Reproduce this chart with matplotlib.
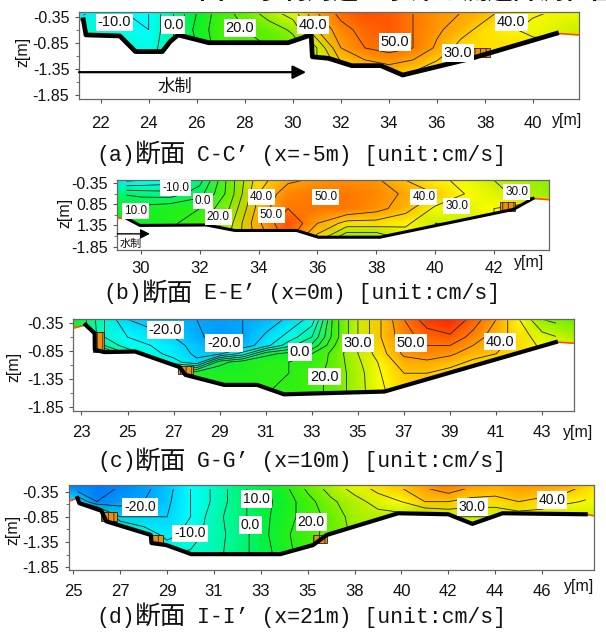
#!/usr/bin/env python3
import numpy as np
import matplotlib
matplotlib.use("Agg")
import matplotlib.pyplot as plt
from matplotlib.colors import LinearSegmentedColormap, Normalize
from matplotlib.patches import Polygon, Rectangle

W, H = 606, 632
LATIN = "Liberation Sans"
CJK = ["Noto Sans CJK JP", "DejaVu Sans"]
MONO = ["Liberation Mono", "Noto Sans CJK JP"]

plt.rcParams["hatch.linewidth"] = 0.6

# panel a, section C-C'
a_y = [21.1, 22, 23, 24, 25, 26, 27, 28, 29, 30, 31, 32, 33, 34, 35, 36, 37, 38, 39, 40, 41.9]
a_z = [-0.26, -0.6, -0.95, -1.5]
a_v = [
    [-12, -8, -10, -10, 0, 10, 18, 22, 28, 33, 45, 52, 55, 54, 50, 47, 45, 42, 38, 36, 33],
    [-5, -5, -8, -10, 0, 12, 18, 20, 22, 26, 40, 48, 52, 54, 50, 46, 42, 38, 36, 33, 30],
    [-5, -5, -5, -8, 0, 10, 18, 18, 20, 22, 30, 45, 50, 52, 50, 44, 38, 38, 38, 38, 38],
    [-5, -5, -5, -5, 0, 10, 15, 15, 18, 20, 30, 35, 38, 40, 38, 35, 35, 35, 35, 35, 35],
]
a_bed_y = [21.1, 21.28, 21.39, 22.8, 23.45, 24.57, 24.89, 25.22, 26.5, 29.8, 30.76, 30.81,
           31.49, 32.45, 33.66, 34.57, 37.43, 40.97, 41.9]
a_bed_z = [-0.41, -0.41, -0.70, -0.72, -1.02, -1.02, -0.83, -0.70, -0.85, -0.85, -0.70, -1.12,
           -1.15, -1.29, -1.29, -1.47, -1.15, -0.67, -0.70]
a_labels = [("-10.0", 22.58, -0.46), ("0.0", 25.02, -0.51), ("20.0", 27.79, -0.56),
            ("40.0", 30.84, -0.51), ("50.0", 34.25, -0.84), ("30.0", 36.87, -1.04),
            ("40.0", 39.09, -0.46)]
a_ticks = [22, 24, 26, 28, 30, 32, 34, 36, 38, 40]
a_ticklabels = ["22", "24", "26", "28", "30", "32", "34", "36", "38", "40"]
a_blocks = [(37.43, 38.2, -1.12, -0.96)]

# panel b, section E-E'
b_y = [29.2, 30, 31, 32, 33, 34, 35, 36, 37, 38, 39, 40, 41, 42, 43, 43.86]
b_z = [-0.28, -0.6, -0.95, -1.3, -1.65]
b_v = [
    [-12, -10, -8, 3, 22, 38, 44, 46, 47, 46, 40, 36, 34, 30, 27, 25],
    [5, 3, 2, 8, 22, 40, 48, 50, 50, 48, 44, 40, 35, 32, 28, 26],
    [12, 12, 14, 15, 25, 42, 50, 50, 50, 47, 42, 34, 32, 35, 38, 38],
    [12, 12, 14, 18, 28, 44, 55, 45, 38, 38, 36, 30, 30, 35, 38, 38],
    [12, 12, 14, 18, 30, 42, 52, 38, 25, 25, 32, 32, 30, 38, 38, 38],
]
b_bed_y = [29.2, 29.51, 29.97, 32.23, 33.2, 35.29, 36.03, 38.12, 42.66, 43.33, 43.86]
b_bed_z = [-1.18, -1.18, -1.35, -1.34, -1.47, -1.47, -1.63, -1.63, -0.97, -0.71, -0.74]
b_labels = [("-10.0", 31.19, -0.47), ("0.0", 32.12, -0.78), ("40.0", 34.10, -0.68),
            ("50.0", 36.29, -0.68), ("40.0", 39.62, -0.68), ("30.0", 40.73, -0.89),
            ("30.0", 42.77, -0.56), ("10.0", 29.83, -1.0), ("20.0", 32.63, -1.15),
            ("50.0", 34.44, -1.10)]
b_ticks = [30, 32, 34, 36, 38, 40, 42]
b_ticklabels = ["30", "32", "34", "36", "38", "40", "42"]
b_blocks = [(42.2, 42.71, -1.0, -0.8)]

# panel c, section G-G'
c_y = [22.65, 24, 25, 26, 27, 28, 29, 30, 31, 32, 33, 34, 35, 36, 37, 38, 39, 40, 41, 42, 43, 44.36]
c_z = [-0.28, -0.6, -0.75, -0.9, -1.05, -1.25, -1.65]
c_v = [
    [12, -5, -15, -17, -18, -20, -21, -20, -18, -14, -8, 18, 30, 40, 50, 58, 60, 53, 45, 35, 25, 22],
    [15, -5, -10, -13, -15, -19, -22, -20, -14, -8, 0, 18, 30, 40, 48, 52, 54, 48, 42, 38, 32, 28],
    [18, 0, -8, -10, -13, -17, -19, -18, -12, -2, 6, 20, 30, 39, 47, 50, 50, 45, 41, 38, 34, 31],
    [20, 15, 0, -8, -12, -16, -16, -8, 8, 12, 15, 22, 30, 38, 46, 48, 46, 42, 40, 38, 36, 34],
    [20, 18, 8, 0, -8, -14, 8, 13, 15, 15, 16, 22, 29, 36, 43, 44, 42, 39, 37, 36, 35, 34],
    [20, 20, 15, 12, 12, 14, 14, 14, 15, 15, 18, 22, 28, 35, 40, 40, 38, 36, 34, 34, 34, 34],
    [20, 20, 15, 12, 12, 14, 14, 14, 15, 16, 18, 22, 28, 34, 38, 40, 40, 36, 34, 34, 34, 34],
]
c_bed_y = [22.65, 23.18, 23.57, 23.58, 23.99, 25.33, 27.26, 27.51, 29.19, 30.62, 31.79, 36.15, 43.59, 44.36]
c_bed_z = [-0.44, -0.38, -0.53, -0.83, -0.87, -0.86, -1.14, -1.28, -1.46, -1.46, -1.63, -1.58, -0.69, -0.71]
c_labels = [("-20.0", 26.64, -0.47), ("-20.0", 29.19, -0.70), ("0.0", 32.48, -0.87),
            ("30.0", 35.0, -0.71), ("50.0", 37.31, -0.71), ("40.0", 41.17, -0.68),
            ("20.0", 33.55, -1.31)]
c_ticks = [23, 25, 27, 29, 31, 33, 35, 37, 39, 41, 43]
c_ticklabels = ["23", "25", "27", "29", "31", "33", "35", "37", "39", "41", "43"]
c_blocks = [(23.49, 23.99, -0.86, -0.5), (27.18, 27.85, -1.26, -1.12)]

# panel d, section I-I'  (tick labels skip 37 in the original, so positions differ from labels)
d_y = [24.8, 26, 27, 28, 29, 30, 31, 32, 33, 34, 35, 36, 37, 38, 39, 40, 41, 42, 43, 44, 45, 46, 47.21]
d_z = [-0.22, -0.55, -0.85, -1.2, -1.6]
d_v = [
    [-27, -27, -25, -22, -17, -10, -4, 3, 8, 14, 22, 28, 33, 38, 41, 46, 50, 46, 44, 46, 46, 44, 38],
    [-10, -25, -22, -20, -16, -10, -4, 3, 8, 12, 18, 24, 28, 32, 35, 40, 40, 38, 38, 40, 38, 36, 34],
    [10, 5, -15, -15, -15, -10, -2, 3, 8, 13, 17, 22, 27, 28, 28, 28, 30, 30, 30, 32, 32, 30, 30],
    [20, 10, 5, -6, -12, -8, -2, 2, 8, 14, 18, 22, 26, 30, 30, 30, 30, 30, 30, 30, 30, 30, 30],
    [20, 10, 8, 5, -5, -4, -2, 3, 7, 13, 18, 22, 26, 30, 30, 30, 30, 30, 30, 30, 30, 30, 30],
]
d_bed_y = [24.8, 25.17, 25.25, 26.19, 26.4, 28.3, 28.33, 28.96, 30.03, 33.83, 35.23, 35.81,
           38.86, 41.0, 42.03, 43.32, 46.87, 47.21]
d_bed_z = [-0.54, -0.48, -0.58, -0.73, -0.94, -1.21, -1.37, -1.41, -1.59, -1.59, -1.41, -1.21,
           -0.78, -0.80, -0.99, -0.78, -0.80, -0.83]
d_labels = [("-20.0", 27.85, -0.66), ("10.0", 32.81, -0.50), ("0.0", 32.56, -1.02),
            ("-10.0", 29.98, -1.18), ("20.0", 35.15, -0.96), ("30.0", 42.03, -0.66),
            ("40.0", 45.43, -0.52)]
d_ticks = [25, 27, 29, 31, 33, 35, 37, 39, 41, 43, 45]
d_ticklabels = ["25", "27", "29", "31", "33", "35", "38", "40", "42", "44", "46"]
d_blocks = [(26.19, 26.85, -0.93, -0.75), (28.33, 28.83, -1.37, -1.21), (35.23, 35.81, -1.37, -1.21)]

z_ticks = [-0.35, -0.85, -1.35, -1.85]
z_ticklabels = ["-0.35", "-0.85", "-1.35", "-1.85"]
# the labels in panel b lost their minus sign in the original
b_z_ticklabels = ["-0.35", "0.85", "1.35", "-1.85"]
z_minor = [-0.6, -1.1, -1.6]

levels = np.arange(-30, 65, 5)
norm = Normalize(-35, 65)
cmap = LinearSegmentedColormap.from_list("flow", [
    (0.00, "#0040f0"), (0.15, "#00a8ff"), (0.25, "#00ffff"), (0.35, "#00f8a0"),
    (0.45, "#00f030"), (0.55, "#50f000"), (0.65, "#c8f000"), (0.70, "#ffff00"),
    (0.75, "#ffc800"), (0.85, "#ff7800"), (0.95, "#ff2800"), (1.00, "#e80000"),
])


def px_axes(fig, left, top, right, bottom):
    return fig.add_axes([left / W, 1 - bottom / H, (right - left) / W, (bottom - top) / H])


def draw_panel(fig, box, xlim, ylim, y, z, v, bed_y, bed_z, labels, ticks, ticklabels,
               blocks, zlabels=z_ticklabels, pad=9, top_clip=-0.30, label_size=10.5, bed_lw=3.0):
    ax = px_axes(fig, *box)
    ax.pcolormesh(y, z, np.array(v, dtype=float), shading="gouraud", cmap=cmap, norm=norm, zorder=1)
    ax.fill_between(bed_y, bed_z, ylim[0], color="white", lw=0, zorder=2)

    # contours only exist over the measured part of the section
    clip = Polygon(list(zip(bed_y[1:-1], bed_z[1:-1])) + [(bed_y[-2], top_clip), (bed_y[1], top_clip)],
                   closed=True, transform=ax.transData)
    cs = ax.contour(y, z, np.array(v, dtype=float), levels=levels, colors="#222222",
                    linewidths=0.6, linestyles="solid", zorder=3)
    cs.set_clip_path(clip)

    for y0, y1, z0, z1 in blocks:
        ax.add_patch(Rectangle((y0, z0), y1 - y0, z1 - z0, facecolor="#f09000", edgecolor="#222222",
                               hatch="|||", lw=0.6, zorder=4))

    # orange rim where the colour field stops past the ends of the bed line
    ax.plot(bed_y[:2], bed_z[:2], color="#ff5000", lw=1.2, zorder=4)
    ax.plot(bed_y[-2:], bed_z[-2:], color="#ff5000", lw=1.2, zorder=4)
    ax.plot(bed_y[1:-1], bed_z[1:-1], color="black", lw=bed_lw, solid_joinstyle="round", zorder=5)

    for text, ly, lz in labels:
        ax.text(ly, lz, text, ha="center", va="center", fontsize=label_size, family=LATIN,
                color="#111111", zorder=6, bbox=dict(facecolor="white", edgecolor="none", pad=1.4))

    ax.set_xlim(*xlim)
    ax.set_ylim(*ylim)
    ax.set_xticks(ticks)
    ax.set_xticklabels(ticklabels, family=LATIN, fontsize=12, color="#111111")
    ax.set_yticks(z_ticks)
    ax.set_yticklabels(zlabels, family=LATIN, fontsize=11.5, color="#111111")
    ax.set_yticks(z_minor, minor=True)
    ax.tick_params(axis="x", length=3, pad=pad, color="#555555")
    ax.tick_params(axis="y", length=3, pad=4, color="#555555")
    ax.tick_params(axis="y", which="minor", length=2, color="#555555")
    for sp in ax.spines.values():
        sp.set_color("#666666")
        sp.set_linewidth(0.9)
    return ax


def px_text(fig, x, y, s, **kw):
    return fig.text(x / W, 1 - y / H, s, **kw)


def caption(fig, y, x_tag, tag, x_sec, x_rest, rest):
    px_text(fig, x_tag, y, tag, family=MONO, fontsize=15.5, va="center", color="#111111")
    px_text(fig, x_sec, y, "断面", family=CJK, fontsize=18.5, va="center", color="#111111")
    px_text(fig, x_rest, y, rest, family=MONO, fontsize=15.5, va="center", color="#111111")


def main():
    fig = plt.figure(figsize=(W / 100, H / 100), dpi=100)

    ax_a = draw_panel(fig, (79, 12, 578.6, 99), (21.1, 41.89), (-1.93, -0.26), a_y, a_z, a_v,
                      a_bed_y, a_bed_z, a_labels, a_ticks, a_ticklabels, a_blocks, bed_lw=3.4)
    ax_b = draw_panel(fig, (117.3, 180.3, 548.7, 250.3), (29.2, 43.86), (-1.94, -0.28), b_y, b_z, b_v,
                      b_bed_y, b_bed_z, b_labels, b_ticks, b_ticklabels, b_blocks,
                      zlabels=b_z_ticklabels, pad=5, label_size=8.5, bed_lw=2.2)
    draw_panel(fig, (73.4, 319.3, 573.6, 411), (22.65, 44.36), (-1.93, -0.28), c_y, c_z, c_v,
               c_bed_y, c_bed_z, c_labels, c_ticks, c_ticklabels, c_blocks, pad=7)
    draw_panel(fig, (68.8, 485, 593.7, 570.3), (24.8, 47.21), (-1.91, -0.22), d_y, d_z, d_v,
               d_bed_y, d_bed_z, d_labels, d_ticks, d_ticklabels, d_blocks, pad=7, label_size=10)

    # groyne arrows
    ax_a.annotate("", xy=(30.55, -1.415), xytext=(21.1, -1.415), zorder=7,
                  arrowprops=dict(arrowstyle="-|>", color="black", lw=1.6, mutation_scale=20,
                                  shrinkA=0, shrinkB=0))
    ax_a.text(25.09, -1.70, "水制", family=CJK, fontsize=12.5, ha="center", va="center", color="#111111")
    ax_b.annotate("", xy=(30.31, -1.55), xytext=(29.2, -1.55), zorder=7,
                  arrowprops=dict(arrowstyle="-|>", color="black", lw=1.0, mutation_scale=14,
                                  shrinkA=0, shrinkB=0))
    ax_b.text(29.66, -1.79, "水制", family=CJK, fontsize=8, ha="center", va="center", color="#111111")

    # axis names sit by hand where the original put them
    for x, y in [(567, 121), (529, 263), (578, 432), (579, 587)]:
        px_text(fig, x, y, "y[m]", family=LATIN, fontsize=11.5, ha="center", va="center", color="#111111")
    for x, y in [(23, 52), (65, 213), (13.5, 367), (13, 530)]:
        px_text(fig, x, y, "z[m]", family=LATIN, fontsize=11.5, ha="center", va="center",
                rotation=90, color="#111111")

    # title runs off the top of the image in the reference
    px_text(fig, 199, 5, "図-6 水制周辺の水深と流速計測位置", family=CJK, fontsize=18.5, va="bottom",
            fontweight="bold", color="#111111")

    caption(fig, 155, 96, "(a)", 135, 197, "C-C’ (x=-5m) [unit:cm/s]")
    caption(fig, 294, 103, "(b)", 142, 204, "E-E’ (x=0m) [unit:cm/s]")
    caption(fig, 462, 97, "(c)", 135, 197, "G-G’ (x=10m) [unit:cm/s]")
    caption(fig, 617, 96, "(d)", 135, 197, "I-I’ (x=21m) [unit:cm/s]")

    fig.savefig("out.png", dpi=100)
    plt.close(fig)


if __name__ == "__main__":
    main()
